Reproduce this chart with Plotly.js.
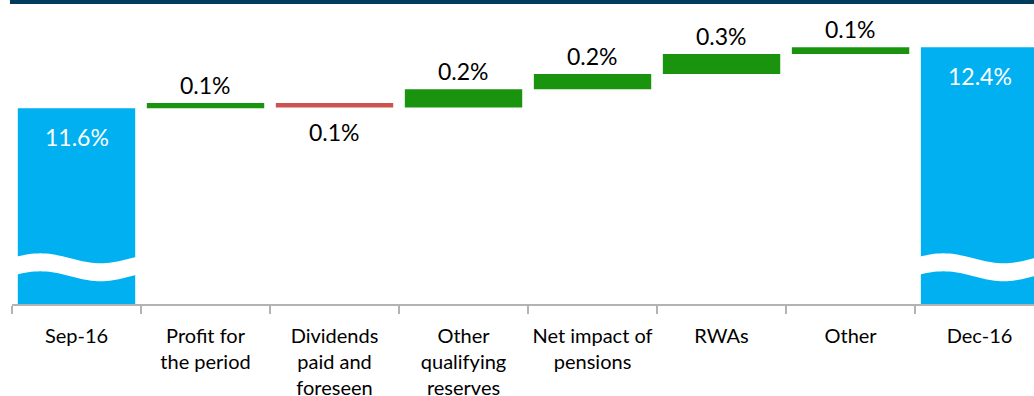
<!DOCTYPE html>
<html>
<head>
<meta charset="utf-8">
<script src="https://cdn.plot.ly/plotly-3.0.1.min.js"></script>
<style>
html,body{margin:0;padding:0;background:#fff;}
#chart{width:1034px;height:396px;}
</style>
</head>
<body>
<div id="chart"></div>
<script>
// ---- data ----
var categories = ["Sep-16", "Profit for<br>the period", "Dividends<br>paid and<br>foreseen", "Other<br>qualifying<br>reserves", "Net impact of<br>pensions", "RWAs", "Other", "Dec-16"];
var startValue = 11.6;                                  // CET1 Sep-16 (%)
var deltas = [0.07, -0.06, 0.24, 0.20, 0.26, 0.09];     // movements (%)
var endValue = 12.4;                                    // CET1 Dec-16 (%)

// ---- styles ----
var BLUE = "#00b0f0", GREEN = "#1a940f", RED = "#cc5450";
var FONT = "Lato, 'Open Sans', sans-serif";
var yMin = 9.033, yMax = 12.967;

// build bars
var xs = [], ys = [], bases = [], colors = [], annotations = [];
function label(v){ return Math.abs(v).toFixed(1) + "%"; }

xs.push(categories[0]); ys.push(startValue); bases.push(0); colors.push(BLUE);
annotations.push({x: categories[0], y: startValue, text: label(startValue), yshift: -29, color: "#ffffff"});

var cum = startValue;
deltas.forEach(function(d, i){
  var c = categories[i + 1];
  xs.push(c); ys.push(d); bases.push(cum);
  colors.push(d >= 0 ? GREEN : RED);
  if (d >= 0) {
    annotations.push({x: c, y: cum + d, text: label(d), yshift: 18, color: "#000000"});
  } else {
    annotations.push({x: c, y: cum + d, text: label(d), yshift: -25, color: "#000000"});
  }
  cum += d;
});

var lastCat = categories[categories.length - 1];
xs.push(lastCat); ys.push(endValue); bases.push(0); colors.push(BLUE);
annotations.push({x: lastCat, y: endValue, text: label(endValue), yshift: -29, color: "#ffffff"});

var annots = annotations.map(function(a){
  return {x: a.x, y: a.y, xref: "x", yref: "y", text: a.text, showarrow: false,
          yanchor: "middle", xanchor: "center", yshift: a.yshift,
          font: {family: FONT, size: 23, color: a.color}};
});

// wavy axis-break bands on the two total bars
function wavePath(idx){
  var half = 0.468, A = 0.0656, up = 9.632, lo = 9.396, N = 40, pts = [];
  for (var k = 0; k <= N; k++) {
    var t = k / N;
    pts.push([idx - half + t * 2 * half, up + A * Math.sin(2 * Math.PI * (t + 0.05))]);
  }
  for (var k2 = N; k2 >= 0; k2--) {
    var t2 = k2 / N;
    pts.push([idx - half + t2 * 2 * half, lo + A * Math.sin(2 * Math.PI * (t2 + 0.05))]);
  }
  return "M" + pts.map(function(p){ return p[0].toFixed(4) + "," + p[1].toFixed(4); }).join(" L") + " Z";
}

var shapes = [
  {type: "path", xref: "x", yref: "y", path: wavePath(0), fillcolor: "#ffffff", line: {width: 0}, layer: "above"},
  {type: "path", xref: "x", yref: "y", path: wavePath(categories.length - 1), fillcolor: "#ffffff", line: {width: 0}, layer: "above"},
  {type: "rect", xref: "paper", yref: "paper", x0: -0.002, x1: 1.01, y0: 1.0, y1: 1.0135, fillcolor: "#003a5d", line: {width: 0}}
];

var trace = {
  type: "bar", x: xs, y: ys, base: bases,
  marker: {color: colors, line: {width: 0}},
  hoverinfo: "skip"
};

var layout = {
  width: 1034, height: 396,
  margin: {l: 12, r: 0, t: 4, b: 92, pad: 0},
  paper_bgcolor: "#ffffff", plot_bgcolor: "#ffffff",
  showlegend: false,
  bargap: 0.09,
  font: {family: FONT, color: "#000000"},
  xaxis: {
    type: "category", range: [-0.5, 7.422], fixedrange: true,
    showline: true, linecolor: "#b3b3b3", linewidth: 1.5,
    ticks: "outside", tickson: "boundaries", ticklen: 8, tickwidth: 1.5, tickcolor: "#b3b3b3",
    ticklabelstandoff: 13,
    tickfont: {family: FONT, size: 20, color: "#000000"},
    showgrid: false, zeroline: false, tickangle: 0
  },
  yaxis: {
    range: [yMin, yMax], visible: false, showgrid: false, zeroline: false, fixedrange: true
  },
  annotations: annots,
  shapes: shapes
};

Plotly.newPlot("chart", [trace], layout, {staticPlot: true, displayModeBar: false});
</script>
</body>
</html>
